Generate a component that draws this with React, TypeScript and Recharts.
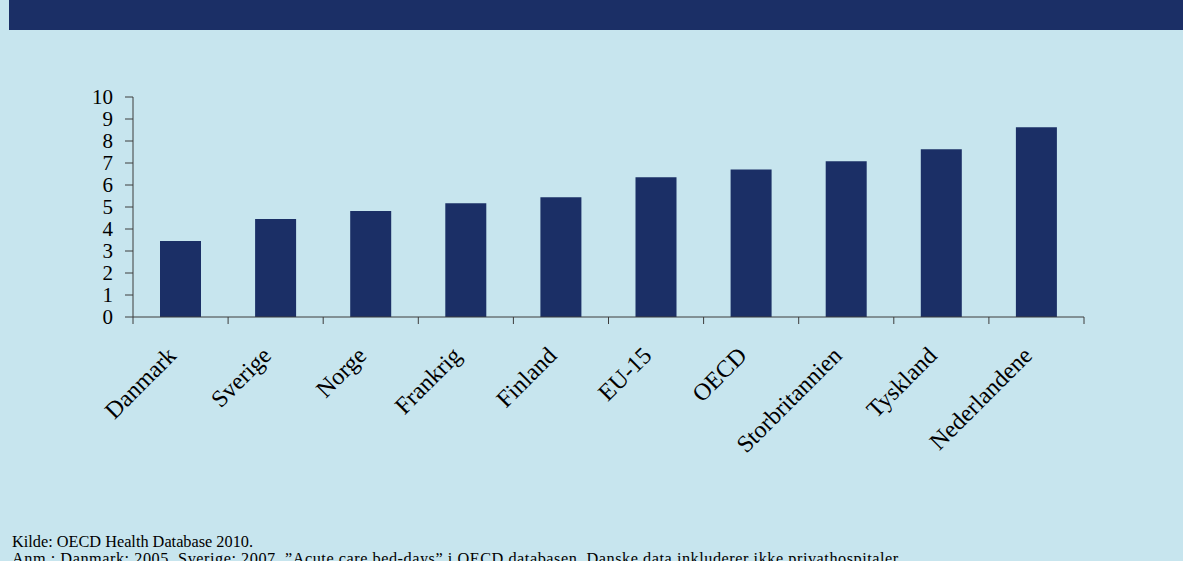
import React from "react";
import { BarChart, Bar, XAxis, YAxis } from "recharts";

// Liggedage pr. indbygger (læses af figuren)
const countries = [
  "Danmark",
  "Sverige",
  "Norge",
  "Frankrig",
  "Finland",
  "EU-15",
  "OECD",
  "Storbritannien",
  "Tyskland",
  "Nederlandene",
];
const bedDays = [3.45, 4.45, 4.82, 5.17, 5.44, 6.35, 6.71, 7.08, 7.62, 8.62];
const yTicks = [0, 1, 2, 3, 4, 5, 6, 7, 8, 9, 10];

const sourceNote = "Kilde: OECD Health Database 2010.";
const remarkNote =
  "Anm.: Danmark: 2005. Sverige: 2007. \u201DAcute care bed-days\u201D i OECD databasen. Danske data inkluderer ikke privathospitaler.";

const chartData = countries.map((name, i) => ({ name, value: bedDays[i] }));

const W = 1183;
const H = 561;
const BG = "#c7e5ee";
const NAVY = "#1b2f66";
const AXIS = "#3c3c3c";
const FONT = '"Liberation Serif", "Times New Roman", serif';

const PLOT_LEFT = 133;
const PLOT_RIGHT = 1084;
const BAND = (PLOT_RIGHT - PLOT_LEFT) / countries.length;

function CategoryTick(props: any) {
  const { x, y, payload, index } = props;
  const half = BAND / 2;
  return (
    <g>
      <line x1={x - half} x2={x - half} y1={y} y2={y + 7} stroke={AXIS} strokeWidth={1} />
      {index === countries.length - 1 && (
        <line x1={x + half} x2={x + half} y1={y} y2={y + 7} stroke={AXIS} strokeWidth={1} />
      )}
      <text
        transform={`translate(${x - 3},${y + 40}) rotate(-45)`}
        textAnchor="end"
        fontFamily={FONT}
        fontSize={24}
        fill="#000"
      >
        {payload.value}
      </text>
    </g>
  );
}

export default function App() {
  return (
    <div
      style={{
        position: "absolute",
        left: 0,
        top: 0,
        width: W,
        height: H,
        background: BG,
        overflow: "hidden",
      }}
    >
      <div
        style={{
          position: "absolute",
          left: 9,
          top: 0,
          width: W - 9,
          height: 30,
          background: NAVY,
        }}
      />
      <div style={{ position: "absolute", left: 0, top: 0 }}>
        <BarChart
          width={W}
          height={500}
          data={chartData}
          margin={{ top: 97, right: W - PLOT_RIGHT, left: 0, bottom: 63 }}
        >
          <XAxis
            dataKey="name"
            type="category"
            interval={0}
            height={120}
            tickSize={0}
            tickMargin={0}
            tickLine={false}
            axisLine={{ stroke: AXIS, strokeWidth: 1 }}
            tick={<CategoryTick />}
          />
          <YAxis
            type="number"
            domain={[0, 10]}
            ticks={yTicks}
            interval={0}
            width={PLOT_LEFT}
            tickSize={8}
            tickMargin={12}
            axisLine={{ stroke: AXIS, strokeWidth: 1 }}
            tickLine={{ stroke: AXIS, strokeWidth: 1 }}
            tick={{ fontFamily: FONT, fontSize: 21, fill: "#000" }}
          />
          <Bar dataKey="value" fill={NAVY} barSize={41} isAnimationActive={false} />
        </BarChart>
      </div>
      <svg
        width={W}
        height={H}
        style={{ position: "absolute", left: 0, top: 0, pointerEvents: "none" }}
      >
        <text x={12} y={547} fontFamily={FONT} fontSize={16.3} fill="#000">
          {sourceNote}
        </text>
        <text
          x={12}
          y={564}
          fontFamily={FONT}
          fontSize={16.3}
          fill="#000"
          textLength={890}
          lengthAdjust="spacing"
        >
          {remarkNote}
        </text>
      </svg>
    </div>
  );
}
